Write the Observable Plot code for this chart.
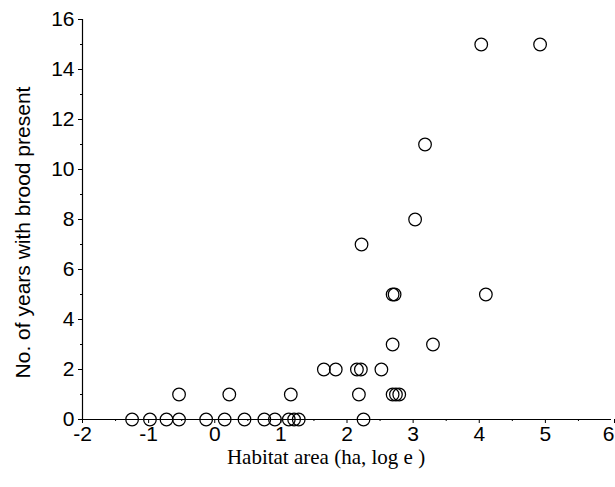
<!DOCTYPE html>
<html>
<head>
<meta charset="utf-8">
<script src="https://cdn.jsdelivr.net/npm/d3@7"></script>
<script src="https://cdn.jsdelivr.net/npm/@observablehq/plot@0.6"></script>
<style>
  html, body { margin: 0; padding: 0; background: #fff; }
</style>
</head>
<body>
<div id="chart"></div>
<script>
// Habitat area (ha, log e) and number of years with brood present
const areaLog = [
  -1.25, -0.98, -0.73, -0.54, -0.13, 0.15, 0.45, 0.75, 0.91, 1.12, 1.20, 1.27, 2.25,
  -0.54, 0.22, 1.15, 2.18, 2.69, 2.74, 2.79,
  1.65, 1.83, 2.15, 2.21, 2.52,
  2.69, 3.30,
  2.69, 2.72, 4.10,
  2.22,
  3.03,
  3.18,
  4.03, 4.92
];
const yearsBrood = [
  0, 0, 0, 0, 0, 0, 0, 0, 0, 0, 0, 0, 0,
  1, 1, 1, 1, 1, 1, 1,
  2, 2, 2, 2, 2,
  3, 3,
  5, 5, 5,
  7,
  8,
  11,
  15, 15
];
const xMajorTicks = [-2, -1, 0, 1, 2, 3, 4, 5];
const xEdgeTick = [6];
const xMinorTicks = [-1.5, -0.5, 0.5, 1.5, 2.5, 3.5, 4.5, 5.5];
const yMajorTicks = [0, 2, 4, 6, 8, 10, 12, 14, 16];
const yMinorTicks = [1, 3, 5, 7, 9, 11, 13, 15];
const xTitle = "Habitat area (ha, log e )";
const yTitle = "No. of years with brood present";

const data = areaLog.map((x, i) => ({x, y: yearsBrood[i]}));

const chart = Plot.plot({
  width: 615,
  height: 487,
  marginLeft: 82,
  marginRight: 4,
  marginTop: 19,
  marginBottom: 68,
  style: {fontFamily: "'Liberation Sans', Arial, sans-serif", color: "#000", background: "#fff"},
  x: {domain: [-2, 6]},
  y: {domain: [0, 16]},
  marks: [
    Plot.ruleY([0], {stroke: "#000", strokeWidth: 1.2}),
    Plot.ruleX([-2], {stroke: "#000", strokeWidth: 1.2}),
    Plot.axisX({ticks: xMajorTicks, tickSize: 4, tickPadding: 3, fontSize: 21, label: null,
      tickFormat: d => String(d), stroke: "#000"}),
    Plot.axisX({ticks: xEdgeTick, tickSize: 4, tickPadding: 3, fontSize: 21, label: null,
      tickFormat: d => String(d), stroke: "#000", textAnchor: "end", dx: 3}),
    Plot.axisX({ticks: xMinorTicks, tickSize: 2, label: null, tickFormat: () => "", stroke: "#000"}),
    Plot.axisY({ticks: yMajorTicks, tickSize: 4, tickPadding: 4, fontSize: 21, label: null,
      tickFormat: d => String(d), stroke: "#000"}),
    Plot.axisY({ticks: yMinorTicks, tickSize: 2, label: null, tickFormat: () => "", stroke: "#000"}),
    Plot.dot(data, {x: "x", y: "y", r: 6.3, stroke: "#000", strokeWidth: 1.25, fill: "none"}),
    Plot.text([yTitle], {frameAnchor: "left", dx: -59, dy: 13, rotate: -90, fontSize: 21,
      textAnchor: "middle", fill: "#000"}),
    Plot.text([xTitle], {frameAnchor: "bottom", dx: -21, dy: 44, fontSize: 21,
      textAnchor: "middle", fill: "#000", fontFamily: "'Liberation Serif', 'Times New Roman', serif"})
  ]
});
document.getElementById("chart").appendChild(chart);
</script>
</body>
</html>
